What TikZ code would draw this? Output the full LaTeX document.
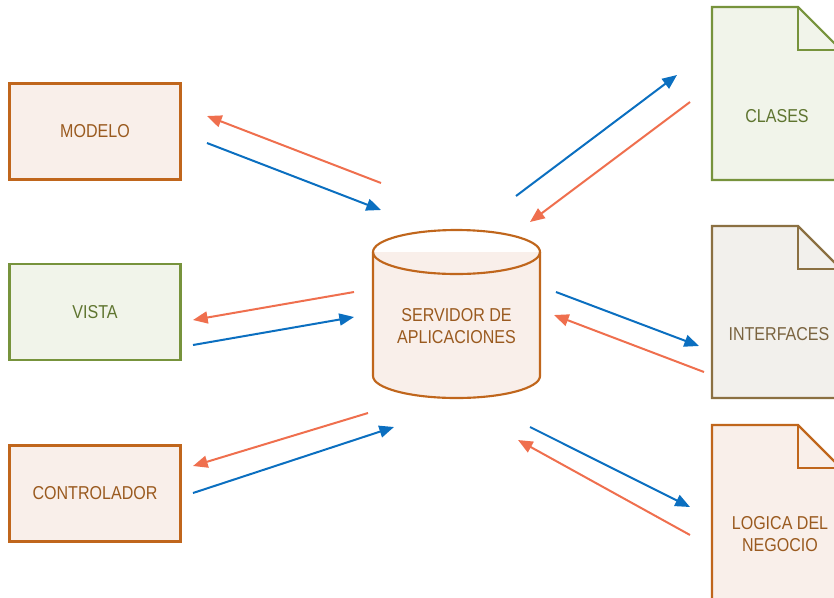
\documentclass[tikz,border=0pt]{standalone}
\usepackage{fontspec}
\setmainfont{Liberation Sans}[FakeStretch=0.86]
\usepackage{xcolor}
\usepackage{tikz}
\usetikzlibrary{positioning,arrows.meta}

\definecolor{brd}{HTML}{C0661C}
\definecolor{brdtxt}{HTML}{9A5A1F}
\definecolor{brdfill}{HTML}{F9EFEA}
\definecolor{grn}{HTML}{77933C}
\definecolor{grntxt}{HTML}{5F7530}
\definecolor{grnfill}{HTML}{F1F4EA}
\definecolor{tan}{HTML}{8B7042}
\definecolor{tantxt}{HTML}{7A6440}
\definecolor{tanfill}{HTML}{F2F0EC}
\definecolor{toleft}{HTML}{EF6F4E}
\definecolor{toright}{HTML}{0B6FC0}

\begin{document}
\begin{tikzpicture}[x=0.75pt, y=-0.75pt,
  font=\fontsize{14}{17}\selectfont,
  box/.style={draw=#1, line width=1.6pt, minimum width=171*0.75pt, minimum height=96*0.75pt, inner sep=0pt},
  ret/.style={toleft, line width=1.5pt, -{Triangle[length=11pt,width=9pt]}},
  go/.style={toright, line width=1.5pt, -{Triangle[length=11pt,width=9pt]}},
  doc/.style={draw=#1, line width=1.6pt, line join=miter}]
\useasboundingbox (0,0) rectangle (834,597);
\clip (0,0) rectangle (834,597);

% left side
\node[box=brd, fill=brdfill, text=brdtxt] (modelo) at (95,131.5) {MODELO};
\node[box=grn, fill=grnfill, text=grntxt] (vista) at (95,312) {VISTA};
\node[box=brd, fill=brdfill, text=brdtxt] (ctrl) at (95,493.5) {CONTROLADOR};

% server
\filldraw[brd, fill=brdfill, line width=1.6pt] (373,252) -- (373,376)
  arc[start angle=180, end angle=0, x radius=83.5, y radius=22] -- (540,252);
\draw[brd, line width=1.6pt] (456.5,252) ellipse [x radius=83.5, y radius=22];
\node[text=brdtxt, align=center] (srv) at (456.5,326) {SERVIDOR DE\\APLICACIONES};

% right side
\filldraw[doc=grn, fill=grnfill] (712,7) -- (798,7) -- (841,50) -- (841,180) -- (712,180) -- cycle;
\draw[doc=grn] (798,7) -- (798,50) -- (841,50);
\node[text=grntxt] (clases) at (777,116) {CLASES};

\filldraw[doc=tan, fill=tanfill] (712,226) -- (798,226) -- (841,269) -- (841,398) -- (712,398) -- cycle;
\draw[doc=tan] (798,226) -- (798,269) -- (841,269);
\node[text=tantxt] (inter) at (779,334) {INTERFACES};

\filldraw[doc=brd, fill=brdfill] (712,425) -- (798,425) -- (841,468) -- (841,640) -- (712,640) -- cycle;
\draw[doc=brd] (798,425) -- (798,468) -- (841,468);
\node[text=brdtxt, align=center] (logica) at (780,534) {LOGICA DEL\\NEGOCIO};

% arrow ends
\coordinate (m1) at (381,183); \coordinate (m2) at (207,116);
\coordinate (m3) at (207,143); \coordinate (m4) at (381,210);
\coordinate (v1) at (354,292); \coordinate (v2) at (193,320);
\coordinate (v3) at (193,345); \coordinate (v4) at (354,317);
\coordinate (c1) at (368,413); \coordinate (c2) at (193,466);
\coordinate (c3) at (193,493); \coordinate (c4) at (394,427);
\coordinate (k1) at (516,196); \coordinate (k2) at (677,75);
\coordinate (k3) at (690,102); \coordinate (k4) at (530,222);
\coordinate (i1) at (556,292); \coordinate (i2) at (699,346);
\coordinate (i3) at (704,372); \coordinate (i4) at (554,315);
\coordinate (l1) at (530,427); \coordinate (l2) at (690,507);
\coordinate (l3) at (690,535); \coordinate (l4) at (518,440);

\draw[ret] (m1) -- (m2);
\draw[go] (m3) -- (m4);
\draw[ret] (v1) -- (v2);
\draw[go] (v3) -- (v4);
\draw[ret] (c1) -- (c2);
\draw[go] (c3) -- (c4);
\draw[go] (k1) -- (k2);
\draw[ret] (k3) -- (k4);
\draw[go] (i1) -- (i2);
\draw[ret] (i3) -- (i4);
\draw[go] (l1) -- (l2);
\draw[ret] (l3) -- (l4);
\end{tikzpicture}
\end{document}
